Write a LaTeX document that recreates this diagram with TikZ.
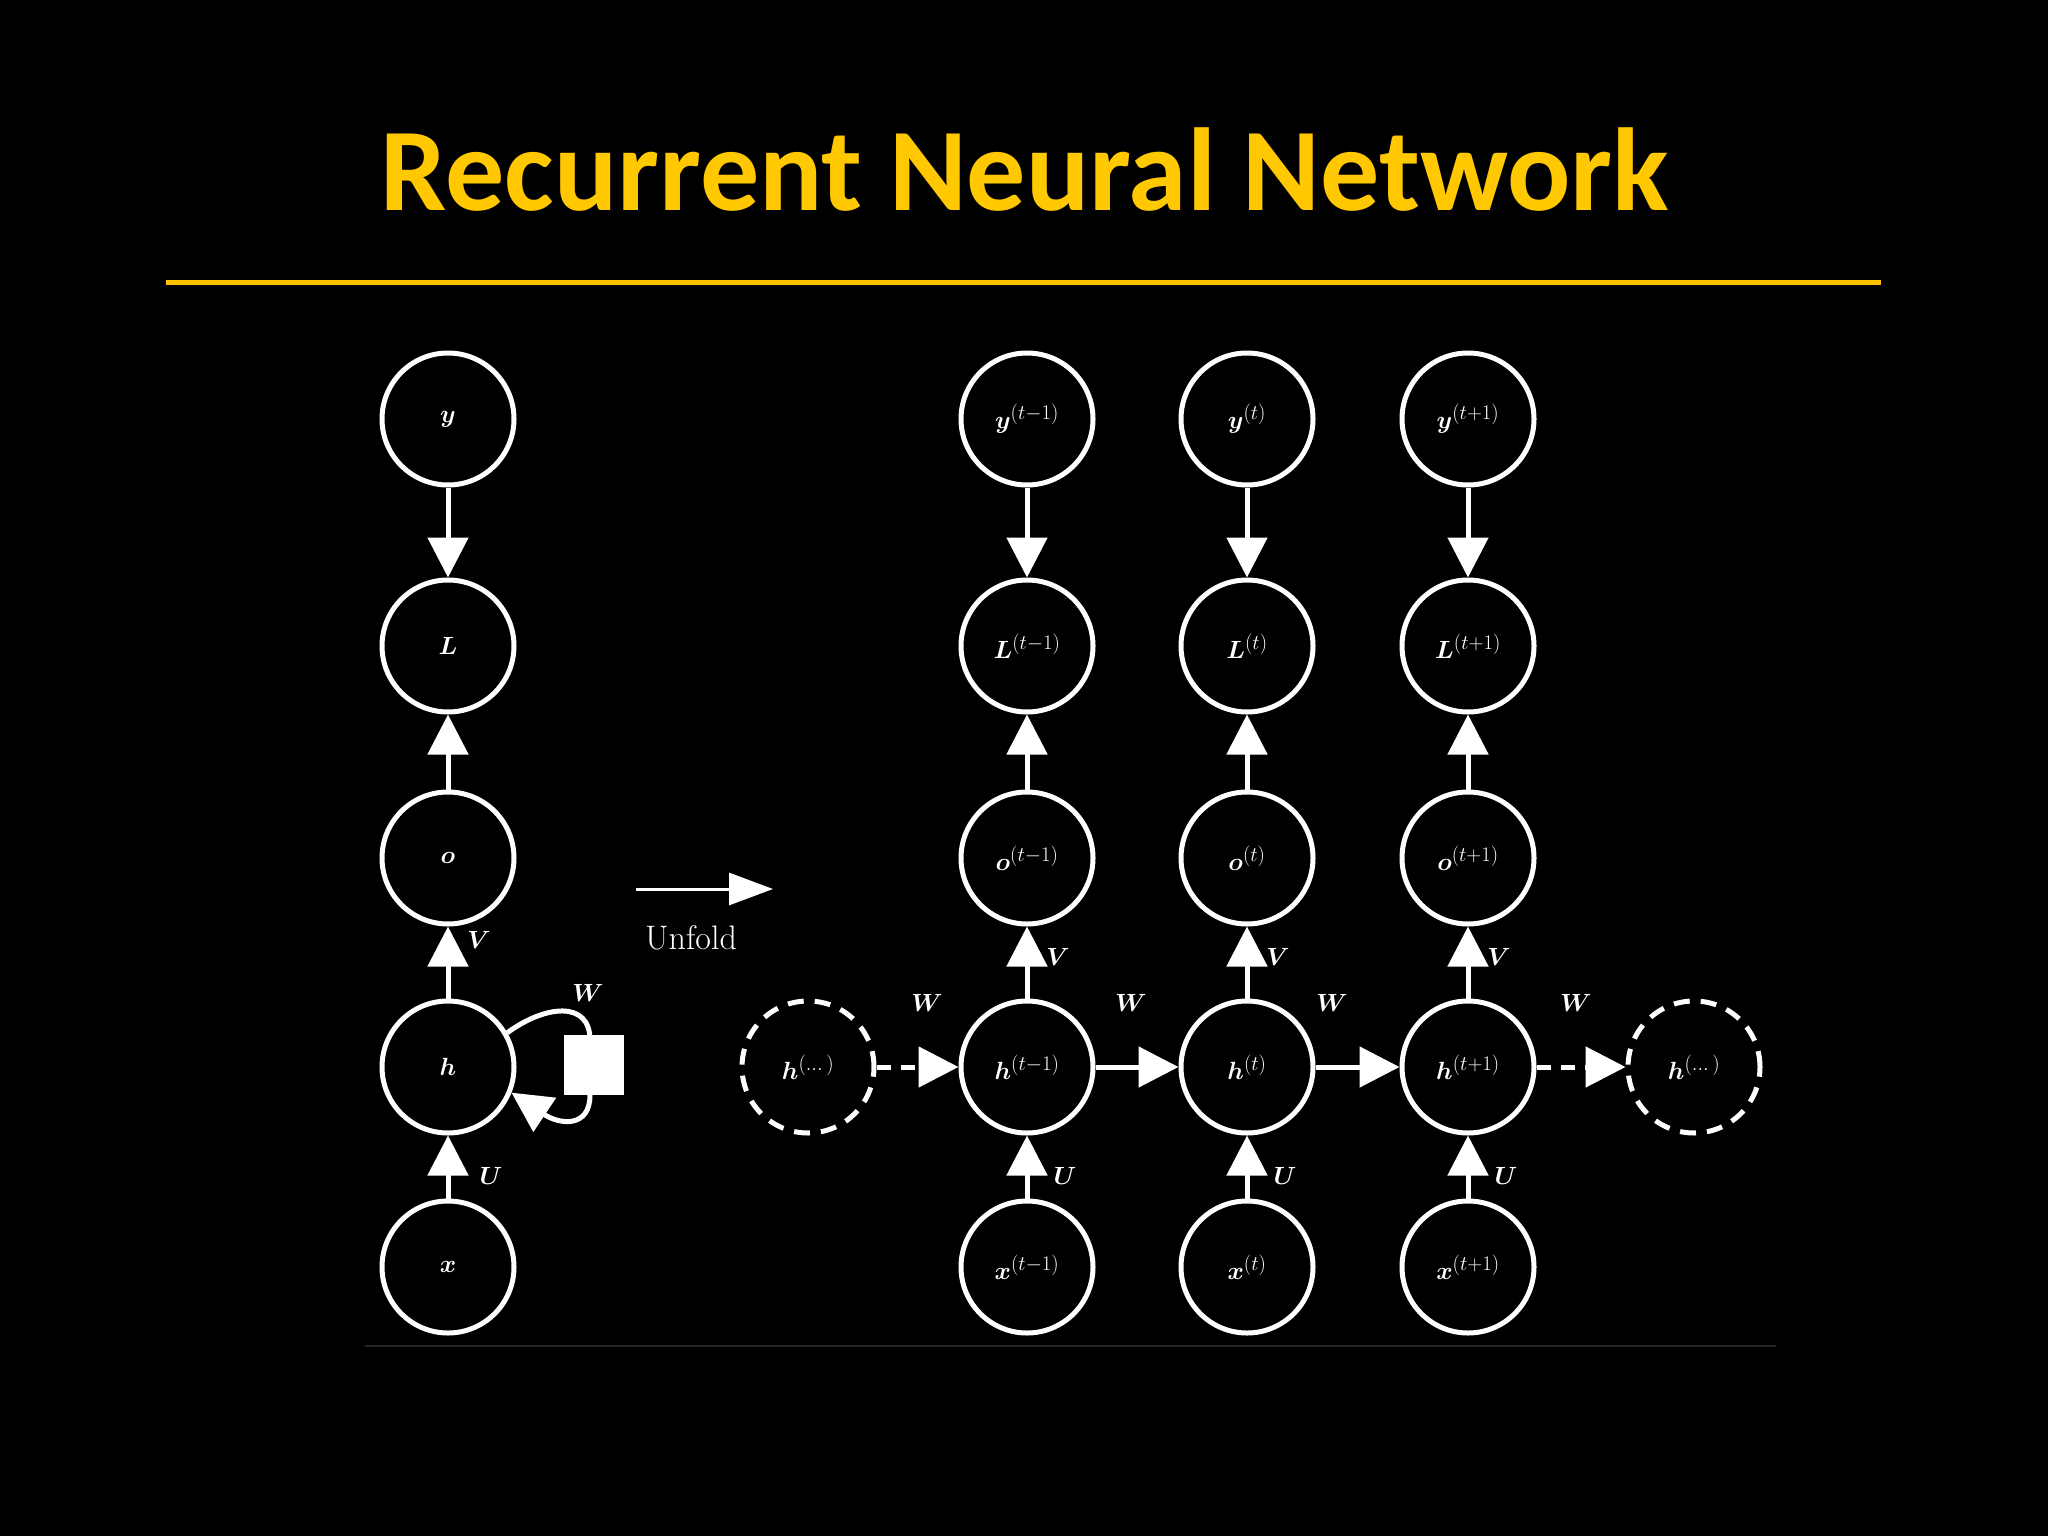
\documentclass[tikz,border=0pt]{standalone}
\usepackage{fontspec}
\usepackage{amsmath,bm}
\newfontfamily\titlefont{Carlito}
\usetikzlibrary{arrows.meta}
\begin{document}
\begin{tikzpicture}[x=1pt,y=-1pt,
  nd/.style={circle,draw=white,line width=5pt,minimum size=132pt,inner sep=0pt,text=white,font=\fontsize{30}{34}\selectfont},
  dnd/.style={nd,dash pattern=on 16pt off 11pt},
  ar/.style={draw=white,line width=5pt,-{Triangle[length=40pt,width=40pt]}},
  lb/.style={text=white,font=\fontsize{32}{36}\selectfont}]
\fill[black] (0,0) rectangle (2048,1536);
\useasboundingbox (0,0) rectangle (2048,1536);
\node[text={rgb,255:red,255;green,200;blue,0},font=\titlefont\bfseries\fontsize{118}{130}\selectfont] (title) at (1025,170) {Recurrent Neural Network};
\draw[draw={rgb,255:red,255;green,192;blue,0},line width=5pt] (166,282) coordinate (l1) -- (1881,282) coordinate (l2);
\draw[draw=black!85!white,line width=2pt] (365,1346) coordinate (b1) -- (1776,1346) coordinate (b2);
% left
\node[nd] (y) at (448,419) {$\bm{y}$};
\node[nd] (L) at (448,646) {$\bm{L}$};
\node[nd] (o) at (448,858) {$\bm{o}$};
\node[nd] (h) at (448,1067) {$\bm{h}$};
\node[nd] (x) at (448,1267) {$\bm{x}$};
\draw[ar] (y) -- (L);
\draw[ar] (o) -- (L);
\draw[ar] (h) -- (o);
\draw[ar] (x) -- (h);
\node[lb] (V0) at (479,940) {$\bm{V}$};
\node[lb] (U0) at (491,1176) {$\bm{U}$};
\node[lb] (W0) at (588,993) {$\bm{W}$};
\node[fill=white,minimum size=60pt,inner sep=0pt] (sq) at (594,1065) {};
\draw[draw=white,line width=5pt,-{Triangle[length=40pt,width=40pt]}] (h.30) .. controls (545,1005) and (590,1000) .. (590,1040) -- (590,1095) .. controls (590,1128) and (560,1125) .. (h.-22);
% unfold
\coordinate (u1) at (636,889); \coordinate (u2) at (773,889);
\draw[draw=white,line width=3pt,-{Triangle[length=44pt,width=32pt]}] (u1) -- (u2);
\node[text=white,font=\fontsize{34}{38}\selectfont] (unf) at (691,938) {Unfold};
% right
\foreach \n/\xx/\s in {a/1027/t-1,b/1247/t,c/1468/t+1}{
  \node[nd] (y\n) at (\xx,419) {$\bm{y}^{(\s)}$};
  \node[nd] (L\n) at (\xx,646) {$\bm{L}^{(\s)}$};
  \node[nd] (o\n) at (\xx,858) {$\bm{o}^{(\s)}$};
  \node[nd] (h\n) at (\xx,1067) {$\bm{h}^{(\s)}$};
  \node[nd] (x\n) at (\xx,1267) {$\bm{x}^{(\s)}$};
  \draw[ar] (y\n) -- (L\n);
  \draw[ar] (o\n) -- (L\n);
  \draw[ar] (h\n) -- (o\n);
  \draw[ar] (x\n) -- (h\n);
  \node[lb] (V\n) at (\xx+31,957) {$\bm{V}$};
  \node[lb] (U\n) at (\xx+38,1176) {$\bm{U}$};
}
\node[dnd] (hl) at (808,1067) {$\bm{h}^{(\dots)}$};
\node[dnd] (hr) at (1694,1067) {$\bm{h}^{(\dots)}$};
\draw[ar,dash pattern=on 14pt off 10pt] (hl) -- (ha);
\draw[ar] (ha) -- (hb);
\draw[ar] (hb) -- (hc);
\draw[ar,dash pattern=on 14pt off 10pt] (hc) -- (hr);
\node[lb] (W1) at (927,1003) {$\bm{W}$};
\node[lb] (W2) at (1131,1003) {$\bm{W}$};
\node[lb] (W3) at (1332,1003) {$\bm{W}$};
\node[lb] (W4) at (1576,1003) {$\bm{W}$};
\end{tikzpicture}
\end{document}
